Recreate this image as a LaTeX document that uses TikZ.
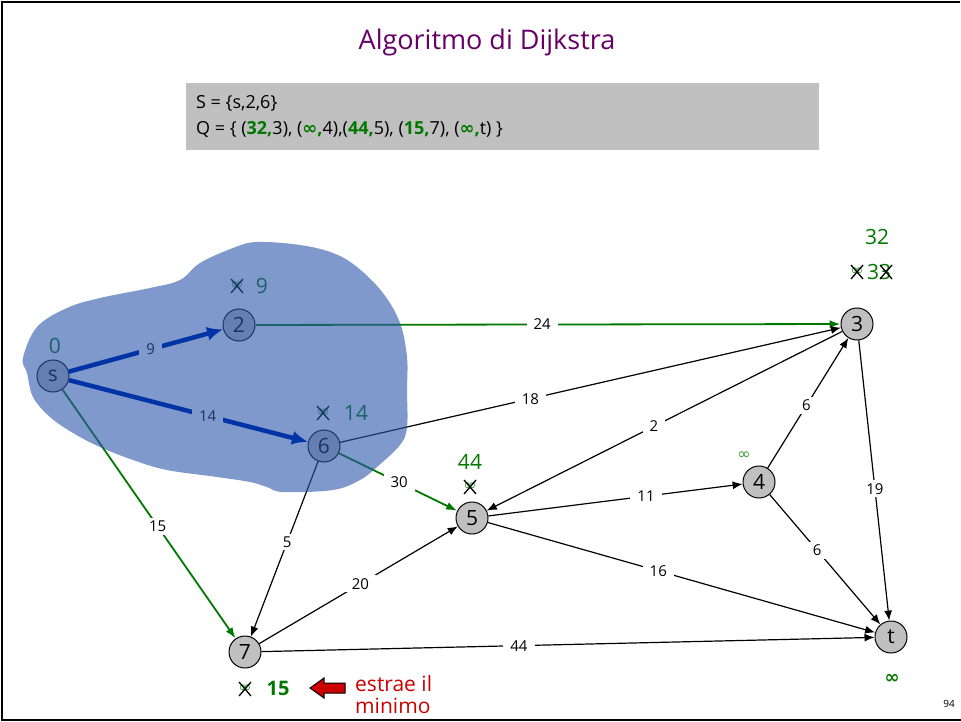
\documentclass[tikz,border=0pt]{standalone}
\usepackage{fontspec}
\setmainfont{Open Sans}
\newfontfamily\sym{DejaVu Sans}
\usetikzlibrary{arrows.meta}
\definecolor{grn}{RGB}{0,120,0}
\definecolor{ltgrn}{RGB}{60,160,60}
\definecolor{blu}{RGB}{0,51,165}
\definecolor{blobc}{RGB}{42,85,170}
\definecolor{blobw}{RGB}{127,153,204}
\definecolor{dblu}{RGB}{25,51,102}
\definecolor{ttl}{RGB}{102,0,102}
\definecolor{boxg}{RGB}{192,192,192}
\definecolor{redc}{RGB}{204,0,0}
\newcommand{\myinf}{{\sym ∞}}
\tikzset{
  vtx/.style={circle, draw, line width=1pt, fill=boxg, minimum size=32pt, inner sep=0pt, font=\fontsize{21}{21}\selectfont},
  edg/.style={draw, line width=1.2pt, -{Latex[length=10pt,width=8pt]}},
  gedg/.style={draw=grn, line width=1.8pt, -{Latex[length=11pt,width=8pt]}},
  bedg/.style={draw=blu, line width=4.5pt, -{Latex[length=16pt,width=14pt]}},
  lab/.style={fill=white, font=\fontsize{15}{15}\selectfont, inner xsep=7pt, inner ysep=3pt},
  blab/.style={lab, fill=blobw, text=dblu},
  val/.style={text=grn, font=\fontsize{21}{21}\selectfont, inner sep=0pt},
  oldinf/.style={text=ltgrn, font=\sym\fontsize{16}{16}\selectfont, inner sep=0pt},
  xmark/.pic={\draw[line width=1.3pt] (-6,-7) -- (6,7) (-6,7) -- (6,-7);}
}
\begin{document}
\begin{tikzpicture}[x=1pt,y=-1pt]
\useasboundingbox (0,0) rectangle (961,722);
% frame
\draw[line width=1.5pt] (960,2) -- (2,2) -- (2,720) -- (961,720);
% title
\node[text=ttl, font=\fontsize{27}{27}\selectfont] (title) at (487,42) {Algoritmo di Dijkstra};
% grey box
\node[fill=boxg, minimum width=633pt, minimum height=67pt, anchor=north west, inner sep=0pt] (box) at (186,83) {};
\node[anchor=west, font=\fontsize{18}{18}\selectfont, inner sep=0pt] (sline) at (196,103) {S = \{s,2,6\}};
\node[anchor=west, font=\fontsize{18}{18}\selectfont, inner sep=0pt] (qline) at (196,130) {Q = \{ (\textcolor{grn}{\textbf{32,}}3), (\textcolor{grn}{\textbf{\myinf,}}4),(\textcolor{grn}{\textbf{44,}}5), (\textcolor{grn}{\textbf{15,}}7), (\textcolor{grn}{\textbf{\myinf,}}t) \}};
% vertices
\node[vtx] (s) at (53,376) {s};
\node[vtx] (n2) at (239,325) {2};
\node[vtx] (n6) at (324,446) {6};
\node[vtx] (n3) at (857,324) {3};
\node[vtx] (n4) at (759,482) {4};
\node[vtx] (n5) at (472,518) {5};
\node[vtx] (n7) at (245,652) {7};
\node[vtx] (t) at (891,637) {t};
% edges
\path[gedg] (s) -- node[lab, pos=0.55] {15} (n7);
\path[gedg] (n2) -- node[lab, pos=0.49] {24} (n3);
\path[edg] (n6) -- node[lab, pos=0.38] {18} (n3);
\path[gedg] (n6) -- node[lab, pos=0.51] {30} (n5);
\path[edg] (n6) -- node[lab, pos=0.46] {5} (n7);
\path[edg] (n3) -- node[lab, pos=0.53] {2} (n5);
\path[edg] (n4) -- node[lab, pos=0.48] {6} (n3);
\path[edg] (n5) -- node[lab, pos=0.62] {11} (n4);
\path[edg] (n3) -- node[lab, pos=0.53] {19} (t);
\path[edg] (n4) -- node[lab, pos=0.43] {6} (t);
\path[edg] (n5) -- node[lab, pos=0.44] {16} (t);
\path[edg] (n7) -- node[lab, pos=0.51] {20} (n5);
\path[edg] (n7) -- node[lab, pos=0.42] {44} (t);
% values
\node[val] (v0) at (55,346) {0};
\node[oldinf] (i2) at (237,286) {∞};
\pic at (i2) {xmark};
\node[val] (v2) at (262,286) {9};
\node[oldinf] (i6) at (323,413) {∞};
\pic at (i6) {xmark};
\node[val] (v6) at (356,413) {14};
\node[val] (v3) at (877,237) {32};
\node[oldinf] (i3) at (857,272) {∞};
\pic at (i3) {xmark};
\node[val] (v3b) at (879,272) {33};
\pic at ([xshift=7pt]v3b.center) {xmark};
\node[val] (v5) at (470,462) {44};
\node[oldinf] (i5) at (470,487) {∞};
\pic at (i5) {xmark};
\node[oldinf] (v4) at (744,456) {∞};
\node[oldinf] (i7) at (245,689) {∞};
\pic at (i7) {xmark};
\node[val, font=\bfseries\fontsize{20}{20}\selectfont] (v7) at (278,688) {15};
\node[val, font=\sym\bfseries\fontsize{18}{18}\selectfont] (vt) at (892,679) {∞};
% red arrow
\draw[fill=redc, line width=1pt] (310,688) -- (324,678) -- (324,683) -- (345,683) -- (345,693) -- (324,693) -- (324,698) -- cycle;
\node[text=redc, anchor=north west, align=left, font=\fontsize{21}{22}\selectfont, inner sep=0pt] (note) at (355,675) {estrae il\\minimo};
\node[font=\fontsize{10}{10}\selectfont] (pg) at (949,704) {94};
% blob
\fill[blobc, fill opacity=0.6] plot[smooth cycle, tension=0.6] coordinates {
(23,358) (37,327) (67,308) (100,298) (150,288) (180,280) (200,263) (233,248) (257,242) (300,245) (333,253) (357,267) (383,293) (400,323) (407,357) (407,390) (407,427) (400,445) (377,467) (360,480) (333,490) (283,492) (267,487) (250,482) (217,477) (167,470) (133,460) (100,447) (73,433) (50,417) (33,397) (27,373)};
% tree edges (on top of the blob)
\path[bedg] (s) -- node[blab, pos=0.53] {9} (n2);
\path[bedg] (s) -- node[blab, pos=0.58] {14} (n6);
\end{tikzpicture}
\end{document}
